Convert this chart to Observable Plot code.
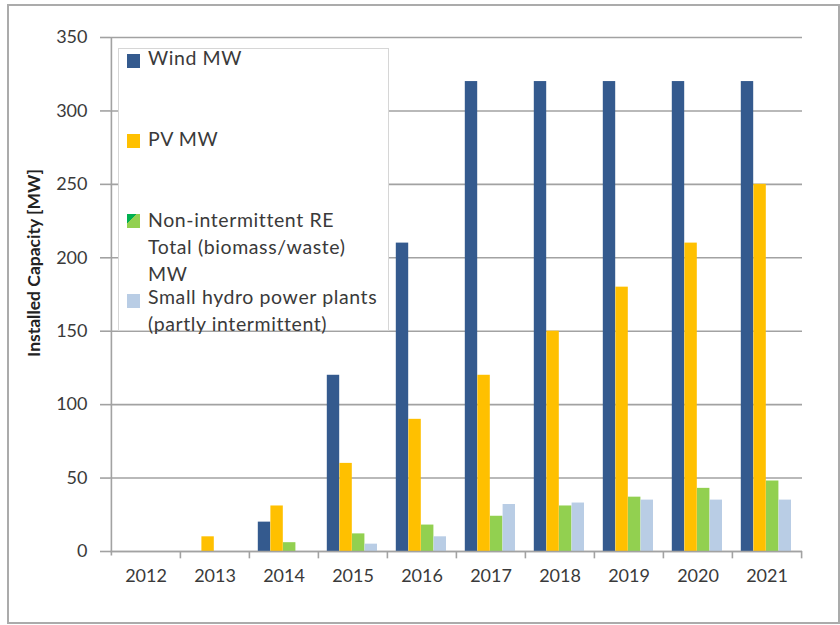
<!DOCTYPE html>
<html><head><meta charset="utf-8">
<script src="https://cdn.jsdelivr.net/npm/d3@7"></script>
<script src="https://cdn.jsdelivr.net/npm/@observablehq/plot@0.6"></script>
<style>
body{margin:0;background:#fff;}
#wrap{position:relative;width:840px;height:625px;font-family:Lato,"Open Sans",sans-serif;overflow:hidden;}
#frame{position:absolute;left:7px;top:4px;width:833px;height:620px;border:2px solid #ababab;box-sizing:border-box;pointer-events:none;}
#chart{position:absolute;left:0;top:0;}
#ytitle{position:absolute;left:33px;top:263px;transform:translate(-50%,-50%) rotate(-90deg);white-space:nowrap;font-weight:bold;font-size:17.5px;color:#222;}
#legend{position:absolute;left:118px;top:48px;width:271px;height:283px;border:1px solid #d6d6d6;background:#fff;box-sizing:border-box;}
.item{position:absolute;left:29px;font-size:19.5px;line-height:27px;letter-spacing:0.6px;color:#3a3a3a;white-space:pre-line;}
.sw{position:absolute;left:8px;width:13px;height:14px;}
</style></head><body>
<div id="wrap"><div id="chart"></div><div id="ytitle"></div><div id="legend"></div><div id="frame"></div></div>
<script>
const years = ["2012","2013","2014","2015","2016","2017","2018","2019","2020","2021"];
const seriesNames = ["Wind MW","PV MW","Non-intermittent RE\nTotal (biomass/waste)\nMW","Small hydro power plants\n(partly intermittent)"];
const wind   = [0, 0, 20, 120, 210, 320, 320, 320, 320, 320];
const pv     = [0, 10, 31, 60, 90, 120, 150, 180, 210, 250];
const nonInt = [0, 0, 6, 12, 18, 24, 31, 37, 43, 48];
const hydro  = [0, 0, 0, 5, 10, 32, 33, 35, 35, 35];
const colors = ["#345a8e","#ffc000","#92d050","#b9cde5"];
const yTicks = [0, 50, 100, 150, 200, 250, 300, 350];
const yTitle = "Installed Capacity [MW]";

const seriesValues = [wind, pv, nonInt, hydro];
const band = (802 - 110) / years.length;
const barW = 12.6, lead = 8.8;

const barMarks = seriesValues.map((vals, j) =>
  Plot.barY(years, {
    x: d => d,
    y: (d, i) => vals[i],
    fill: colors[j],
    insetLeft: lead + barW * j,
    insetRight: band - lead - barW * (j + 1)
  })
);

const chart = Plot.plot({
  width: 840, height: 625,
  marginLeft: 110, marginRight: 38, marginTop: 37, marginBottom: 74,
  style: {fontFamily: "Lato, 'Open Sans', sans-serif", background: "transparent"},
  x: {domain: years, padding: 0, label: null},
  y: {domain: [0, 350], label: null},
  marks: [
    Plot.ruleY(yTicks, {stroke: "#a2a2a2", strokeWidth: 1.6}),
    ...barMarks,
    Plot.ruleY([0], {stroke: "#a2a2a2", strokeWidth: 1.6}),
    Plot.ruleX([years[0]], {x: d => d, dx: -band / 2, y1: -3, y2: 350, stroke: "#a2a2a2", strokeWidth: 1.6}),
    Plot.ruleX(years.slice(1), {x: d => d, dx: -band / 2, y1: -5, y2: 0, stroke: "#a2a2a2", strokeWidth: 1.6}),
    Plot.ruleX([years[years.length - 1]], {x: d => d, dx: band / 2, y1: -5, y2: 0, stroke: "#a2a2a2", strokeWidth: 1.6}),
    Plot.axisY(yTicks, {tickSize: 10, tickPadding: 13, fontSize: 18, stroke: "#a2a2a2", color: "#3a3a3a", label: null}),
    Plot.axisX(years, {tickSize: 0, tickPadding: 18, fontSize: 18, color: "#3a3a3a", label: null})
  ]
});
chart.querySelectorAll("[aria-label='y-axis tick'] path, [aria-label='y-axis tick']").forEach(e => e.setAttribute("stroke-width", "1.6"));
document.getElementById("chart").appendChild(chart);
document.getElementById("ytitle").textContent = yTitle;

const tops = [-5, 76, 157, 234];
const swTops = [5, 85, 165, 245];
const legend = document.getElementById("legend");
seriesNames.forEach((name, j) => {
  const sw = document.createElement("div");
  sw.className = "sw";
  sw.style.top = swTops[j] + "px";
  sw.style.background = colors[j];
  if (j === 2) sw.style.background = "linear-gradient(135deg, #00b050 0 35%, #92d050 35% 100%)";
  legend.appendChild(sw);
  const it = document.createElement("div");
  it.className = "item";
  it.style.top = tops[j] + "px";
  it.textContent = name;
  legend.appendChild(it);
});
</script>
</body></html>
